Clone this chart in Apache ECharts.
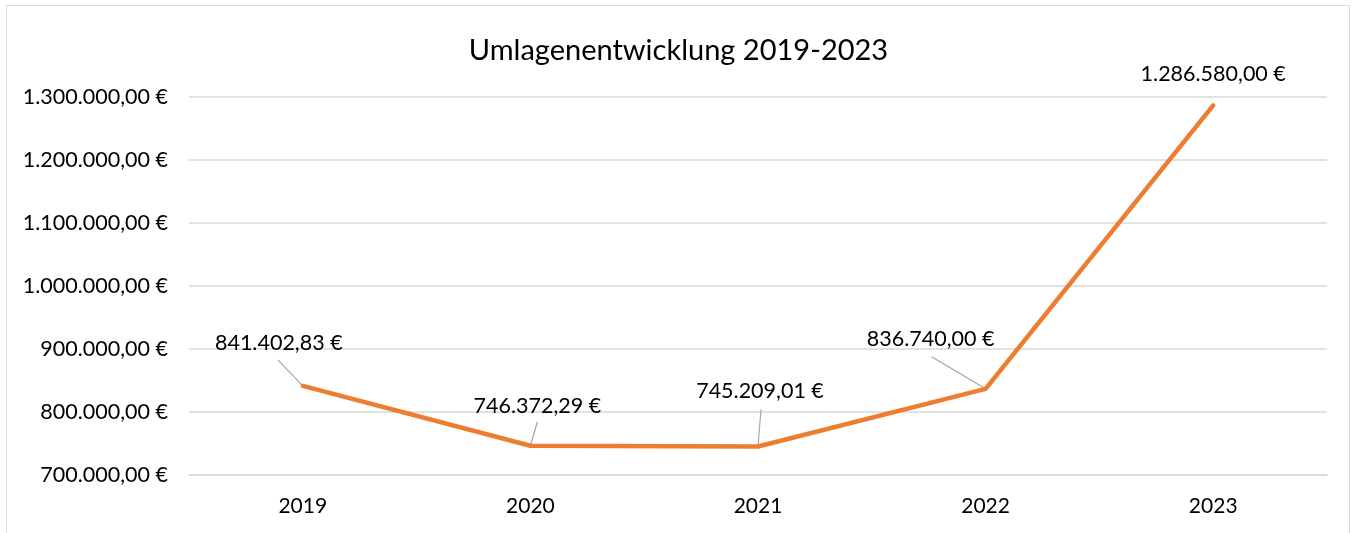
<!DOCTYPE html>
<html>
<head>
<meta charset="utf-8">
<script src="https://cdn.jsdelivr.net/npm/echarts@6/dist/echarts.min.js"></script>
<style>
  html, body { margin: 0; padding: 0; background: #fff; }
  #frame {
    position: absolute; left: 6px; top: 5px; width: 1344px; height: 540px;
    border: 1px solid #d9d9d9; box-sizing: border-box;
  }
  #chart-container { position: absolute; left: 0; top: 0; width: 1357px; height: 533px; }
</style>
</head>
<body>
<div id="frame"></div>
<div id="chart-container"></div>
<script>
var years = ['2019', '2020', '2021', '2022', '2023'];
var umlagen = [841402.83, 746372.29, 745209.01, 836740.00, 1286580.00];
var yMin = 700000, yMax = 1300000, yStep = 100000;

// label offsets (dx, dy) relative to the default "top" position
var labelShift = [[-24, -26], [7, -23], [2, -38], [-55, -33], null];
// leader line start, relative to the data point (pixels)
var leaderStart = [[-25, -26], [7, -24], [3, -37], [-54, -32], null];

function euro(v) {
  var parts = v.toFixed(2).split('.');
  var int = parts[0].replace(/\B(?=(\d{3})+(?!\d))/g, '.');
  return int + ',' + parts[1] + ' €';
}

var font = 'Lato, "Open Sans", sans-serif';

var seriesData = umlagen.map(function (v, i) {
  var item = { value: v };
  if (!labelShift[i]) {
    item.label = { distance: 19 };
  }
  return item;
});

function renderLeader(params, api) {
  var i = api.value(0);
  var s = leaderStart[i];
  if (!s) return null;
  var pt = api.coord([i, api.value(1)]);
  return {
    type: 'line',
    shape: { x1: pt[0] + s[0], y1: pt[1] + s[1], x2: pt[0], y2: pt[1] },
    style: { stroke: '#a6a6a6', lineWidth: 1.2 }
  };
}

var myChart = echarts.init(document.getElementById('chart-container'));
var option = {
  animation: false,
  title: {
    text: 'Umlagenentwicklung 2019-2023',
    left: 'center',
    top: 31,
    textStyle: { fontFamily: font, fontSize: 29, fontWeight: 'normal', color: '#000' }
  },
  grid: { left: 189, right: 30, top: 97, bottom: 58 },
  xAxis: {
    type: 'category',
    data: years,
    boundaryGap: true,
    axisLine: { lineStyle: { color: '#d9d9d9', width: 1.5 } },
    axisTick: { show: false },
    axisLabel: { fontFamily: font, fontSize: 21, color: '#000', margin: 21 }
  },
  yAxis: {
    type: 'value',
    min: yMin,
    max: yMax,
    interval: yStep,
    axisLine: { show: false },
    axisTick: { show: false },
    splitLine: { lineStyle: { color: '#d9d9d9', width: 1.5 } },
    axisLabel: {
      fontFamily: font, fontSize: 21.5, color: '#000', margin: 21,
      formatter: function (v) { return euro(v); }
    }
  },
  series: [{
    type: 'custom',
    renderItem: renderLeader,
    data: umlagen.map(function (v, i) { return [i, v]; }),
    z: 1,
    silent: true
  }, {
    type: 'line',
    data: seriesData,
    symbol: 'circle',
    symbolSize: 2,
    showSymbol: true,
    z: 2,
    lineStyle: { color: '#ED7D31', width: 4.5, cap: 'round' },
    itemStyle: { color: '#ED7D31' },
    label: {
      show: true,
      position: 'top',
      fontFamily: font,
      fontSize: 21.5,
      color: '#000',
      formatter: function (p) { return euro(p.value); }
    },
    labelLayout: function (params) {
      var s = labelShift[params.dataIndex];
      if (!s) return {};
      return { dx: s[0], dy: s[1] };
    }
  }]
};
myChart.setOption(option);
</script>
</body>
</html>
